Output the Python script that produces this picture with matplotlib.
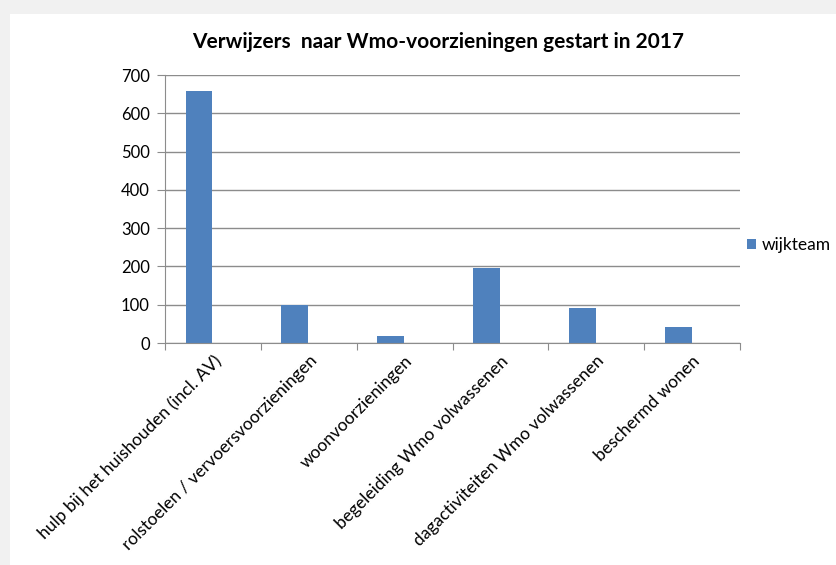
import matplotlib
matplotlib.use('Agg')
import matplotlib.pyplot as plt
from matplotlib.patches import Rectangle
import numpy as np

plt.rcParams['font.family'] = ['Lato', 'DejaVu Sans']

categories = ['hulp bij het huishouden (incl. AV)',
              'rolstoelen / vervoersvoorzieningen',
              'woonvoorzieningen',
              'begeleiding Wmo volwassenen',
              'dagactiviteiten Wmo volwassenen',
              'beschermd wonen']
wijkteam = [658, 99, 18, 196, 91, 42]
yticks = [0, 100, 200, 300, 400, 500, 600, 700]

BLUE = '#4f81bd'
GRID = '#8c8c8c'

fig = plt.figure(figsize=(8.36, 5.65), dpi=100)
fig.patch.set_facecolor('#f1f1f1')
# white chart panel
fig.patches.append(Rectangle((10 / 836, 0), 1, 1 - 14 / 565, transform=fig.transFigure,
                             facecolor='white', edgecolor='none', zorder=-10))

ax = fig.add_axes([165 / 836, 1 - 343 / 565, 575 / 836, 268 / 565])
ax.set_facecolor('none')
ax.set_zorder(1)

x = np.arange(len(categories))
ax.bar(x - 0.145, wijkteam, width=0.28, color=BLUE, zorder=3, label='wijkteam')

ax.set_xlim(-0.5, len(categories) - 0.5)
ax.set_ylim(0, 700)
ax.set_yticks(yticks)
ax.set_yticklabels([str(v) for v in yticks], fontsize=12)
ax.yaxis.grid(True, color=GRID, linewidth=1)
ax.set_axisbelow(True)

for s in ['top', 'right']:
    ax.spines[s].set_visible(False)
ax.spines['left'].set_color(GRID)
ax.spines['bottom'].set_color(GRID)
ax.spines['bottom'].set_zorder(4)

# ticks at category boundaries, labels at centres
ax.set_xticks(np.arange(len(categories) + 1) - 0.5)
ax.set_xticklabels([])
ax.tick_params(axis='x', which='major', length=5, color=GRID, direction='out')
ax.tick_params(axis='y', length=6, color=GRID, pad=5)
ax.set_xticks(x, minor=True)
ax.set_xticklabels(categories, minor=True, rotation=45, ha='right',
                   rotation_mode='anchor', fontsize=12.5)
ax.tick_params(axis='x', which='minor', length=0, pad=7)

fig.text(438 / 836, 1 - 42 / 565, 'Verwijzers  naar Wmo-voorzieningen gestart in 2017',
         ha='center', va='center', fontsize=15, fontweight='bold')

ax.legend(loc='center left', bbox_to_anchor=(1.0, 0.365), frameon=False,
          fontsize=12.5, handlelength=0.55, handleheight=0.55, handletextpad=0.3,
          borderaxespad=0.0)

fig.savefig('out.png', dpi=100, facecolor=fig.get_facecolor())
